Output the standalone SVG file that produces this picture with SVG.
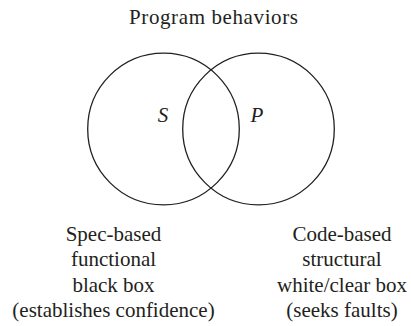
<svg xmlns="http://www.w3.org/2000/svg" width="411" height="326" viewBox="0 0 411 326">
<style>
.t{font-family:"Liberation Serif","Times New Roman",serif;font-size:21px;fill:#231f20;text-anchor:middle}
.i{font-style:italic}
.c{fill:none;stroke:#231f20;stroke-width:1.3}
</style>
<rect width="411" height="326" fill="#fff"/>
<text class="t" x="213.5" y="24" textLength="169" lengthAdjust="spacing">Program behaviors</text>
<g id="S">
<circle class="c" cx="163.5" cy="129" r="75.8"/>
<text class="t i" x="163" y="121.5">S</text>
</g>
<g id="P">
<circle class="c" cx="258.5" cy="129" r="75.8"/>
<text class="t i" x="257" y="121.5">P</text>
</g>
<g id="connectors"></g>
<g id="spec">
<text class="t" x="113.5" y="240.5">Spec-based</text>
<text class="t" x="113.5" y="266">functional</text>
<text class="t" x="113.5" y="291.5">black box</text>
<text class="t" x="113.5" y="317">(establishes confidence)</text>
</g>
<g id="code">
<text class="t" x="342" y="240.5">Code-based</text>
<text class="t" x="342" y="266">structural</text>
<text class="t" x="342" y="291.5">white/clear box</text>
<text class="t" x="342" y="317">(seeks faults)</text>
</g>
</svg>
